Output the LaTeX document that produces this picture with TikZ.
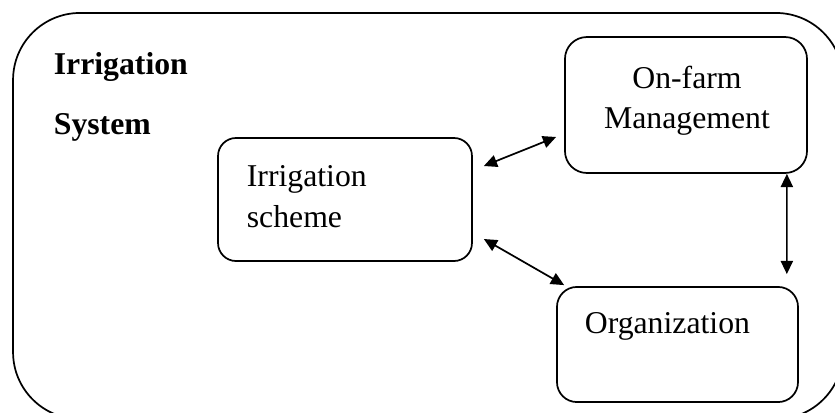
\documentclass[tikz,border=0pt]{standalone}
\usepackage{fontspec}
\setmainfont{Liberation Serif}
\usepackage{tikz}
\usetikzlibrary{arrows.meta,calc}

\begin{document}
\begin{tikzpicture}[x=0.378pt,y=-0.378pt,line width=0.65pt,
    font=\fontsize{12}{15.3}\selectfont]
    \tikzstyle{box}=[draw,rectangle,inner sep=0pt]
    \tikzstyle{outer box}=[box,rounded corners=25.3pt,minimum width=313.7pt,minimum height=153.5pt]
    \tikzstyle{part}=[box,rounded corners=7.5pt]
    \tikzstyle{txt}=[inner sep=0pt]
    \tikzstyle{link}=[{Triangle[length=5pt,width=4.6pt]}-{Triangle[length=5pt,width=4.6pt]}]

    \useasboundingbox (0,0) rectangle (835,412);

    % Draw the system frame and its title
    \node[outer box] (system) at (428,216) {};
    \node[txt,anchor=base west,font=\fontsize{12}{15.3}\selectfont\bfseries] (title1) at (53,74) {Irrigation};
    \node[txt,anchor=base west,font=\fontsize{12}{15.3}\selectfont\bfseries] (title2) at (53,134) {System};

    % Draw the three parts
    \node[part,minimum width=96pt,minimum height=46.5pt,rounded corners=6.8pt] (scheme) at (345,199.5) {};
    \node[part,minimum width=91.5pt,minimum height=51.4pt,rounded corners=8.3pt] (onfarm) at (686,105) {};
    \node[part,minimum width=91.1pt,minimum height=43.5pt] (org) at (677.5,344.5) {};

    \node[txt,anchor=north west,align=left] (scheme-t) at (246,165) {Irrigation\\scheme};
    \node[txt,anchor=north,align=center] (onfarm-t) at (687,65) {On-farm\\Management};
    \node[txt,anchor=base west] (org-t) at (584,333) {Organization};

    % Connect the parts
    \draw[link] ($(scheme.east)+(11,-33.5)$) -- ($(onfarm.west)+(-8,32)$);
    \draw[link] ($(scheme.east)+(11,39.5)$) -- ($(org.north west)+(8,-1)$);
    \draw[link] ($(onfarm.south east)+(-21,0)$) -- ($(org.north east)+(-12,-12)$);
\end{tikzpicture}
\end{document}
